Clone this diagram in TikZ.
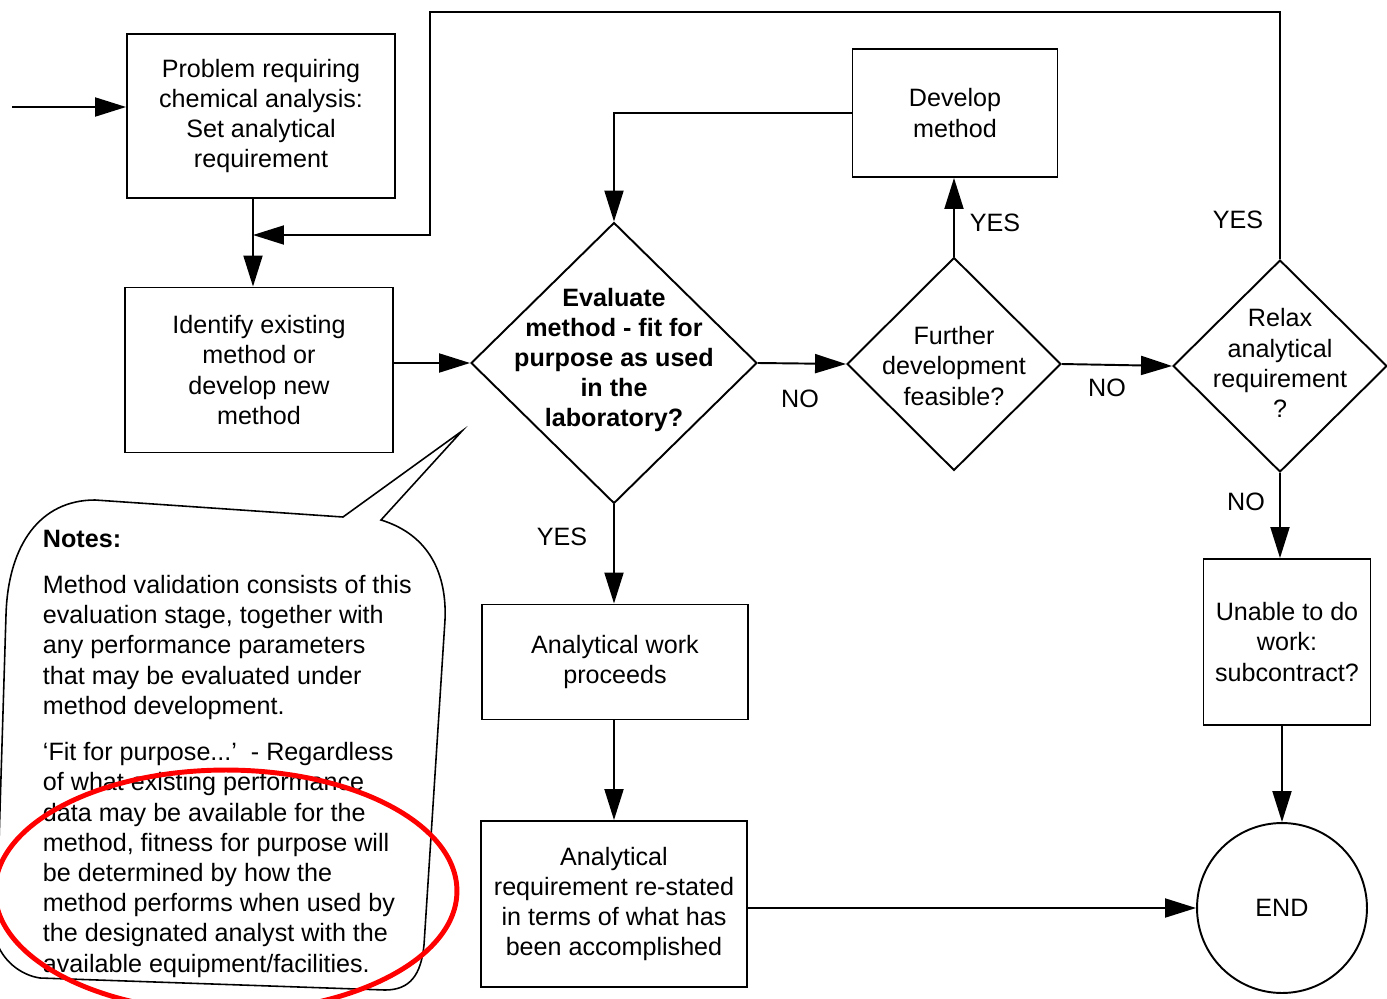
\documentclass[tikz,border=0pt]{standalone}
\usepackage{fontspec}
\setmainfont{Liberation Sans}
\usetikzlibrary{arrows.meta,shapes.geometric}

\tikzset{
  box/.style={draw, align=center, inner sep=0pt},
  decision/.style={draw, diamond, inner sep=0pt},
  endnode/.style={draw, circle, inner sep=0pt, minimum size=3.4cm}
}

\begin{document}
\begin{tikzpicture}[x=0.02cm, y=-0.02cm, line width=1.1pt, >={Triangle[length=0.62cm, width=0.38cm]},
	every node/.style={font=\fontsize{14.3}{17.2}\selectfont}]
	\useasboundingbox (0,0) rectangle (1387,998);
	\clip (0,0) rectangle (1387,998);

	\node[box, minimum width=5.36cm, minimum height=3.28cm] (prob) at (261,116) {Problem requiring\\chemical analysis:\\Set analytical\\requirement};
	\node[box, minimum width=5.36cm, minimum height=3.3cm] (ident) at (259,370) {Identify existing\\method or\\develop new\\method};
	\node[decision, minimum width=5.72cm, minimum height=5.62cm] (eval) at (614,363) {};
	\node[align=center, font=\fontsize{14.3}{17.2}\selectfont\bfseries] (evaltxt) at (614,360) {Evaluate\\method - fit for\\purpose as used\\in the\\laboratory?};
	\node[box, minimum width=4.1cm, minimum height=2.56cm] (devel) at (955,113) {Develop\\method};
	\node[decision, minimum width=4.28cm, minimum height=4.26cm] (feas) at (954,364) {};
	\node[align=center] (feastxt) at (954,366) {Further\\development\\feasible?};
	\node[decision, minimum width=4.28cm, minimum height=4.24cm] (relax) at (1280,366) {};
	\node[align=center] (relaxtxt) at (1280,363) {Relax\\analytical\\requirement\\?};
	\node[box, minimum width=3.34cm, minimum height=3.32cm] (unable) at (1287,642) {Unable to do\\work:\\subcontract?};
	\node[endnode] (endc) at (1282,908) {END};
	\node[box, minimum width=5.32cm, minimum height=2.3cm] (work) at (615,662) {Analytical work\\proceeds};
	\node[box, minimum width=5.32cm, minimum height=3.32cm] (restate) at (614,904) {Analytical\\requirement re-stated\\in terms of what has\\been accomplished};

	\coordinate (start) at (12,107);
	\coordinate (join) at (253,235);
	\coordinate (loop) at (430,12);

	\draw[->] (start) -- (start -| prob.west);
	\draw[->] (prob.south -| join) -- (ident.north -| join);
	\draw[->] (relax.north) |- (loop) |- (join);
	\draw[->] (eval.west -| ident.east) -- (eval.west);
	\draw[->] (devel.west) -| (eval.north);
	\draw[->] (eval.east) -- (feas.west);
	\draw[->] (feas.north) -- (feas.north |- devel.south);
	\draw[->] (feas.east) -- (relax.west);
	\draw[->] (relax.south) -- (relax.south |- unable.north);
	\draw[->] (endc.north |- unable.south) -- (endc.north);
	\draw[->] (eval.south) -- (eval.south |- work.north);
	\draw[->] (work.south -| restate.north) -- (restate.north);
	\draw[->] (restate.east |- endc.west) -- (endc.west);

	\node (no1) at (800,399) {NO};
	\node (yes1) at (995,223) {YES};
	\node (no2) at (1107,388) {NO};
	\node (yes2) at (1238,220) {YES};
	\node (no3) at (1246,502) {NO};
	\node (yes3) at (562,537) {YES};

	% notes callout
	\draw[line width=0.9pt] (343,517) -- (462,431) -- (381,520) .. controls (430,535) and (447,575) .. (445,620) -- (424,945) .. controls (421,975) and (410,990) .. (385,990) -- (40,978) .. controls (20,975) and (2,960) .. (-4,940) -- (6,615) .. controls (8,545) and (40,500) .. (95,500) -- cycle;
	\node[align=left, anchor=north west, inner sep=0pt] (notes) at (42,529) {\textbf{Notes:}\\[0.32cm]
		Method validation consists of this\\evaluation stage, together with\\any performance parameters\\that may be evaluated under\\method development.\\[0.32cm]
		‘Fit for purpose...’\ \ - Regardless\\of what existing performance\\data may be available for the\\method, fitness for purpose will\\be determined by how the\\method performs when used by\\the designated analyst with the\\available equipment/facilities.};

	\draw[red, line width=2.8pt] (226,891) ellipse [x radius=4.62cm, y radius=2.42cm];

\end{tikzpicture}
\end{document}
